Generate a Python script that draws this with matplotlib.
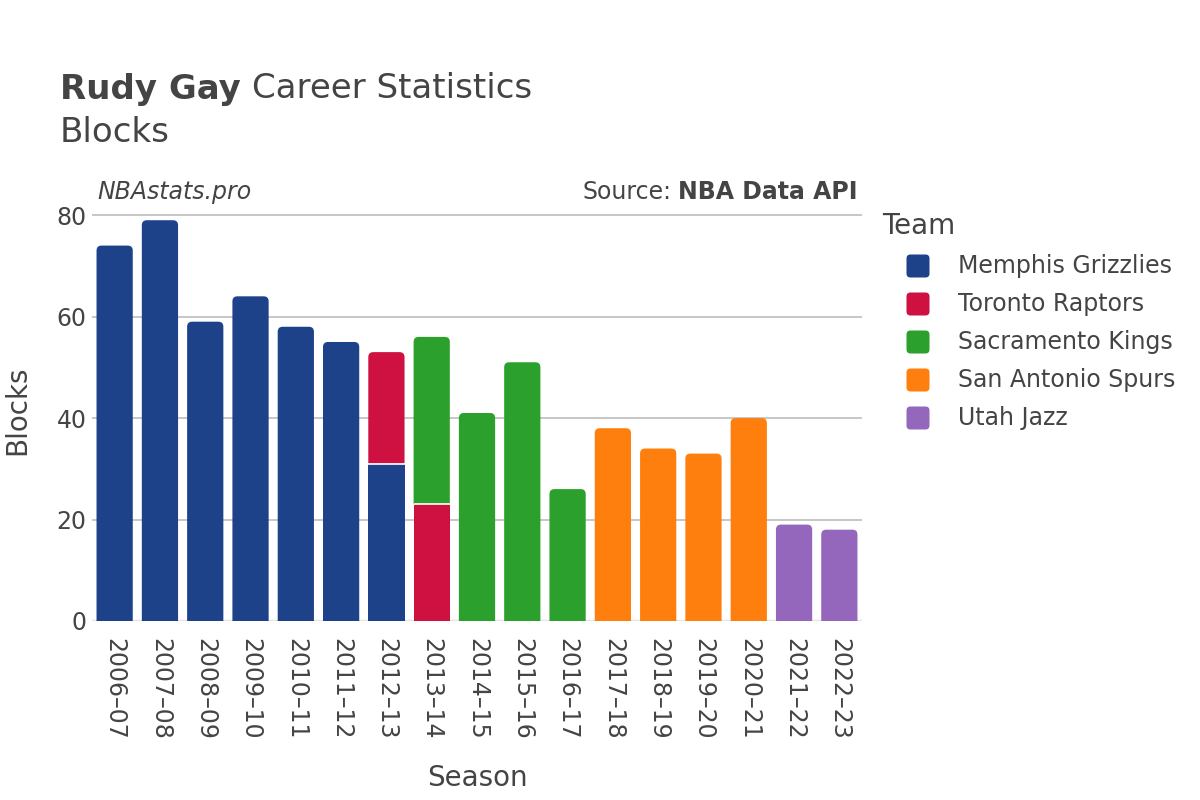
import matplotlib
matplotlib.use("Agg")
import matplotlib.pyplot as plt
from matplotlib.patches import FancyBboxPatch, Rectangle, PathPatch
from matplotlib.path import Path
import numpy as np

seasons = ["2006–07", "2007–08", "2008–09", "2009–10", "2010–11", "2011–12",
           "2012–13", "2013–14", "2014–15", "2015–16", "2016–17", "2017–18",
           "2018–19", "2019–20", "2020–21", "2021–22", "2022–23"]
teams = ["Memphis Grizzlies", "Toronto Raptors", "Sacramento Kings",
         "San Antonio Spurs", "Utah Jazz"]
colors = ["#1d428a", "#ce1141", "#2ca02c", "#ff7f0e", "#9467bd"]

memphis     = [74, 79, 59, 64, 58, 55, 31, 0, 0, 0, 0, 0, 0, 0, 0, 0, 0]
toronto     = [0, 0, 0, 0, 0, 0, 22, 23, 0, 0, 0, 0, 0, 0, 0, 0, 0]
sacramento  = [0, 0, 0, 0, 0, 0, 0, 33, 41, 51, 26, 0, 0, 0, 0, 0, 0]
san_antonio = [0, 0, 0, 0, 0, 0, 0, 0, 0, 0, 0, 38, 34, 33, 40, 0, 0]
utah        = [0, 0, 0, 0, 0, 0, 0, 0, 0, 0, 0, 0, 0, 0, 0, 19, 18]
series = [memphis, toronto, sacramento, san_antonio, utah]

W, H = 1200, 800
fig = plt.figure(figsize=(12, 8), dpi=100)
ax = fig.add_axes([92/W, 1-621/H, 770/W, 416/H])
n = len(seasons)
ax.set_xlim(-0.5, n - 0.5)
ax.set_ylim(0, 82)

text_color = "#444444"
width = 0.8
px_x = 770 / n
px_y = 416 / 82
r_px = 5.0
rx = r_px / px_x
ry = r_px / px_y


def top_rounded(x0, y0, w, h):
    x1, y1 = x0 + w, y0 + h
    r_y = min(ry, h / 2)
    verts = [(x0, y0), (x1, y0), (x1, y1 - r_y), (x1, y1), (x1 - rx, y1),
             (x0 + rx, y1), (x0, y1), (x0, y1 - r_y), (x0, y0)]
    codes = [Path.MOVETO, Path.LINETO, Path.LINETO, Path.CURVE3, Path.CURVE3,
             Path.LINETO, Path.CURVE3, Path.CURVE3, Path.CLOSEPOLY]
    return Path(verts, codes)


totals = np.sum(np.array(series), axis=0)
bottoms = np.zeros(n)
for si, vals in enumerate(series):
    for i in range(n):
        h = vals[i]
        if h <= 0:
            continue
        x0 = i - width / 2
        y0 = bottoms[i]
        is_top = abs(y0 + h - totals[i]) < 1e-9
        if is_top:
            p = PathPatch(top_rounded(x0, y0, width, h), facecolor=colors[si],
                          edgecolor="none", zorder=3)
        else:
            p = Rectangle((x0, y0), width, h, facecolor=colors[si],
                          edgecolor="none", zorder=3)
        ax.add_patch(p)
        if y0 > 0:
            ax.plot([x0, x0 + width], [y0, y0], color="white", lw=1.2, zorder=4,
                    solid_capstyle="butt")
    bottoms += np.array(vals)

ax.set_yticks([0, 20, 40, 60, 80])
ax.yaxis.grid(True, color="#bdbdbd", lw=1.2)
ax.set_axisbelow(True)
ax.axhline(0, color="#e5e5e5", lw=2.5, zorder=2)
for s in ax.spines.values():
    s.set_visible(False)
ax.set_xticks(range(n))
ax.set_xticklabels(seasons, rotation=-90, fontsize=17, color=text_color)
ax.tick_params(axis="x", length=0, pad=12)
ax.tick_params(axis="y", length=0, labelsize=17, labelcolor=text_color, pad=4)

fig.text(477/W, 1-778/H, "Season", fontsize=20, color=text_color,
         ha="center", va="center")
fig.text(17/W, 1-410/H, "Blocks", fontsize=20, color=text_color,
         ha="center", va="center", rotation=90)

t1 = fig.text(60/W, 1-89/H, "Rudy Gay", fontsize=24.5, fontweight="bold",
              color=text_color, va="center", ha="left")
fig.canvas.draw()
bb = t1.get_window_extent()
fig.text(bb.x1/W + 0.009, 1-89/H, "Career Statistics", fontsize=24.5,
         color=text_color, va="center", ha="left")
fig.text(60/W, 1-132/H, "Blocks", fontsize=24.5, color=text_color,
         va="center", ha="left")

fig.text(97/W, 1-192/H, "NBAstats.pro", fontsize=17, style="italic",
         color=text_color, va="center", ha="left")
t2 = fig.text(858/W, 1-192/H, "NBA Data API", fontsize=17, fontweight="bold",
              color=text_color, va="center", ha="right")
fig.canvas.draw()
bb2 = t2.get_window_extent()
fig.text(bb2.x0/W - 0.006, 1-192/H, "Source:", fontsize=17,
         color=text_color, va="center", ha="right")

# Legend drawn manually in figure pixel coordinates
fig.text(882/W, 1-226/H, "Team", fontsize=20, color=text_color,
         ha="left", va="center")
sq = 23
for k, (team, c) in enumerate(zip(teams, colors)):
    yc = 266 + 38 * k
    box = FancyBboxPatch(((918 - sq/2)/W, (H - yc - sq/2)/H), sq/W, sq/H,
                         boxstyle=f"round,pad=0,rounding_size={4/W}",
                         mutation_aspect=W/H, transform=fig.transFigure,
                         facecolor=c, edgecolor="none")
    fig.patches.append(box)
    fig.text(958/W, 1-yc/H, team, fontsize=17, color=text_color,
             ha="left", va="center")

fig.savefig("out.png", dpi=100)
